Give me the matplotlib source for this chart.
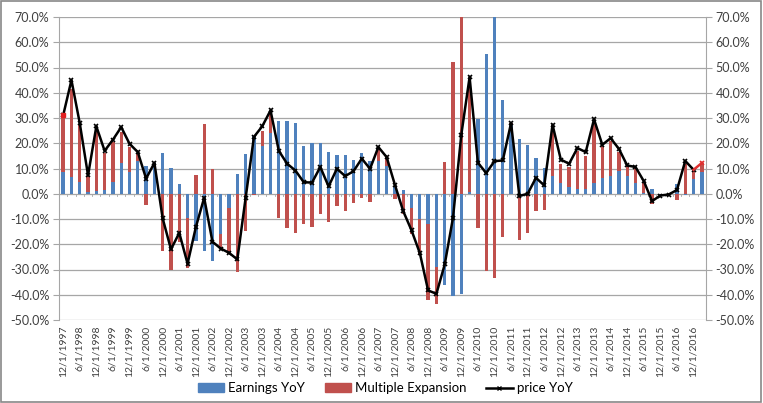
import numpy as np
import pandas as pd
import matplotlib
matplotlib.use("Agg")
import matplotlib.pyplot as plt
from matplotlib.lines import Line2D
from matplotlib.patches import Rectangle
from matplotlib.ticker import FuncFormatter, MultipleLocator

plt.rcParams['font.family'] = ['Lato', 'DejaVu Sans']

# quarterly, 12/1/1997 .. 3/1/2017
dates = pd.date_range("1997-12-01", periods=78, freq="3MS")
labels = ["{}/{}/{}".format(d.month, d.day, d.year) for d in dates]

earnings = [8.5, 6.5, 4.5, 0.5, 1, 1.5, 4.5, 12, 8.5, 13,
            11, 12, 16.2, 10.3, 4, -9.8, -18.8, -22.5, -26.7, -16,
            -5.5, 8, 15.6, 23, 19, 24, 28.8, 28.8, 28, 18.9,
            20.2, 20.2, 16.5, 15.5, 15.2, 13.2, 16.1, 12.8, 13, 11,
            3, 1.3, -5.5, -10, -12, -29, -36.3, -40.3, -39.6, 0.5,
            29.7, 55.5, 75, 37, 27.5, 21.8, 19.2, 14.3, 10.3, 7,
            4.4, 2.6, 2, 2, 4.4, 6.3, 7, 9, 6.9, 4.4,
            0.4, 1.7, -0.5, -0.3, 4, -0.5, 5.7, 8.6]

multiple = [21.5, 35, 23, 6.5, 24, 14.5, 16, 12.5, 10, 3.3,
            -4.5, 0.2, -22.7, -30, -19, -19.5, 7.3, 27.7, 10, -6,
            -18.5, -31, -14.8, -0.5, 5.8, 8.5, -9.5, -13.5, -15.5, -12,
            -13.2, -8, -11.2, -4.9, -7, -3.7, -1.7, -3.2, 5.5, 3.5,
            -2, -8, -10.5, -14, -30, -14.5, 12.5, 52.2, 75, 45,
            -13.5, -30.6, -33.3, -17, 0.5, -18.2, -15.6, -7, -6.6, 20.3,
            7.5, 8, 15, 13, 24, 12.5, 14, 7.5, 4, 6,
            4.2, -4.2, -0.3, 0.2, -2.6, 11.6, 3.5, 3.5]

price = [31, 45, 28, 7.3, 26.7, 17, 21.4, 26.4, 19.8, 16.5,
         6, 12.2, -9.8, -22, -15.5, -27.7, -13.2, -1.6, -19, -21.7,
         -23.4, -26, -1.6, 22.5, 26.7, 33, 17, 11.9, 9.2, 4.6,
         4.4, 10.6, 2.9, 9.9, 7, 8.9, 13.9, 9.9, 18.5, 14.5,
         3.5, -6.9, -14.5, -23.5, -38.3, -39.6, -28, -9.5, 23.4, 46.2,
         12.3, 8.2, 12.9, 13.2, 28, -0.9, 0, 6.3, 3.3, 27.3,
         13.5, 11.9, 18.1, 16.5, 29.5, 19.4, 22, 17.8, 11.2, 10.6,
         5, -2.9, -0.7, -0.3, 1.5, 13, 9.5, 12.2]

blue = "#4F81BD"
red = "#C0504D"

e = np.array(earnings)
m = np.array(multiple)
x = np.arange(len(e))
# excel style stacking: positives up from 0, negatives down from 0
m_bottom = np.where(np.sign(m) == np.sign(e), e, 0.0)

fig = plt.figure(figsize=(7.63, 4.03), dpi=100)
ax = fig.add_axes([59/763, 1 - 320/403, 647/763, 303/403])

ax.bar(x, e, width=0.4, color=blue, zorder=2)
ax.bar(x, m, width=0.4, bottom=m_bottom, color=red, zorder=2)

ax.plot(x[:-1], price[:-1], color="black", lw=1.8, marker="x", ms=3.5,
        mew=1.2, zorder=4)
ax.plot(x[-2:], price[-2:], color="#E03030", lw=1.8, zorder=4)
ax.plot(x[-1], price[-1], color="#E03030", marker="x", ms=3.5, mew=1.2, zorder=5)
ax.plot(x[0], price[0], color="#E02020", marker="s", ms=3.5, zorder=5)

ax.set_xlim(-0.5, len(x) - 0.5)
ax.set_ylim(-50, 70)
ax.yaxis.set_major_locator(MultipleLocator(10))
ax.yaxis.set_major_formatter(FuncFormatter(lambda v, p: "{:.1f}%".format(v)))
ax.grid(axis="y", color="#A6A6A6", lw=0.9, zorder=0)
ax.set_axisbelow(True)

ax.set_xticks(x[::2])
ax.set_xticklabels(labels[::2], rotation=90, fontsize=7.5, color="#404040")
ax.tick_params(axis="x", length=0, pad=4)
ax.tick_params(axis="y", labelsize=9, colors="#404040", length=4,
               color="#A6A6A6", right=True, labelright=True, pad=3)

for s in ["top", "bottom"]:
    ax.spines[s].set_visible(False)
for s in ["left", "right"]:
    ax.spines[s].set_color("#A6A6A6")

# small tick marks on the category axis at 0
for xi in x[:-1]:
    ax.plot([xi + 0.5, xi + 0.5], [0, -0.8], color="#A6A6A6", lw=0.6, zorder=1)

handles = [Rectangle((0, 0), 1, 1, color=blue),
           Rectangle((0, 0), 1, 1, color=red),
           Line2D([], [], color="black", lw=1.8, marker="x", ms=3, mew=1)]
fig.legend(handles, ["Earnings YoY", "Multiple Expansion", "price YoY"],
           loc="center", bbox_to_anchor=(385/763, 1 - 388/403), ncol=3,
           frameon=False, fontsize=9.5, handlelength=2.0, handleheight=0.6,
           columnspacing=1.5, handletextpad=0.3)

fig.add_artist(Rectangle((0.001, 0.002), 0.997, 0.995, transform=fig.transFigure,
                         fill=False, edgecolor="#888888", lw=1.2))

fig.savefig("out.png", dpi=100)
